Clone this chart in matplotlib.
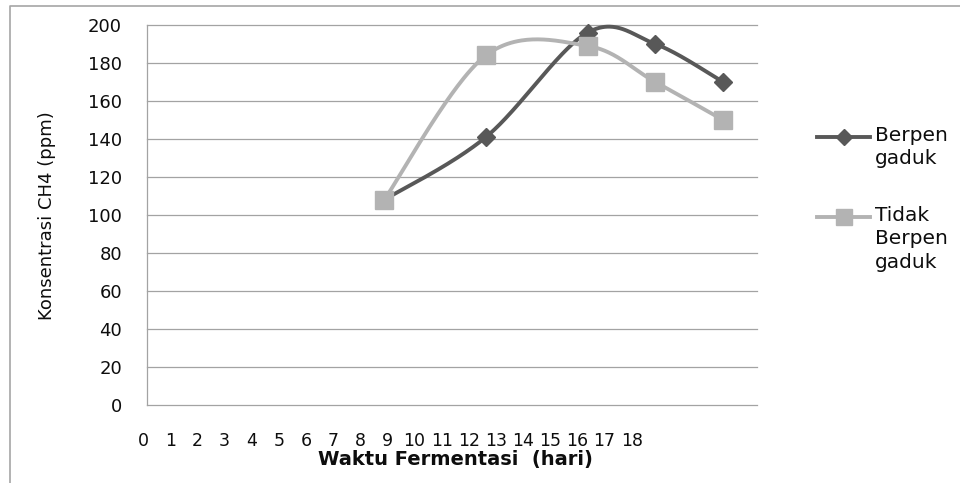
import numpy as np
import matplotlib
matplotlib.use("Agg")
import matplotlib.pyplot as plt
from matplotlib.lines import Line2D

# --- data -------------------------------------------------------------
days = [7, 10, 13, 15, 17]
berpengaduk = [108, 141, 196, 190, 170]
tidak_berpengaduk = [108, 184, 189, 170, 150]
series_labels = ["Berpen\ngaduk", "Tidak\nBerpen\ngaduk"]
x_tick_labels = [str(i) for i in range(19)]
y_ticks = list(range(0, 201, 20))

W, H = 960, 483
DARK = "#585858"
LIGHT = "#b3b3b3"
GRID = "#a3a3a3"
FONT = "DejaVu Sans"
TXT = "#0d0d0d"


def smooth(xs, ys, n=60):
    """Bezier smoothing with Catmull-Rom style control points (tension 1/6)."""
    p = np.column_stack([xs, ys]).astype(float)
    ext = np.vstack([p[0], p, p[-1]])
    out = []
    t = np.linspace(0, 1, n)[:, None]
    for i in range(len(p) - 1):
        p0, p1 = ext[i + 1], ext[i + 2]
        c1 = p0 + (ext[i + 2] - ext[i]) / 6.0
        c2 = p1 - (ext[i + 3] - ext[i + 1]) / 6.0
        seg = ((1 - t) ** 3) * p0 + 3 * ((1 - t) ** 2) * t * c1 \
            + 3 * (1 - t) * t ** 2 * c2 + t ** 3 * p1
        out.append(seg if i == 0 else seg[1:])
    pts = np.vstack(out)
    return pts[:, 0], pts[:, 1]


fig = plt.figure(figsize=(W / 100, H / 100), dpi=100)
fig.patch.set_facecolor("white")

def fx(px):
    return px / W

def fy(py):
    return 1 - py / H

ax = fig.add_axes([fx(147), fy(405), fx(757) - fx(147), fy(25) - fy(405)])
ax.set_xlim(0, 18)
ax.set_ylim(0, 200)

for s in ("top", "right", "bottom"):
    ax.spines[s].set_visible(False)
ax.spines["left"].set_color(GRID)
ax.spines["left"].set_linewidth(0.9)

ax.set_yticks(y_ticks)
ax.set_yticklabels([str(v) for v in y_ticks], fontsize=13, family=FONT, color=TXT)
ax.tick_params(axis="y", length=0, pad=18)
ax.set_xticks([])
ax.yaxis.grid(True, color=GRID, linewidth=0.9)
for gl in ax.get_ygridlines():
    gl.set_clip_on(False)
ax.set_axisbelow(True)

# series: smoothed lines with markers
for ys, color, marker, ms in ((berpengaduk, DARK, "D", 9), (tidak_berpengaduk, LIGHT, "s", 13)):
    sx, sy = smooth(days, ys)
    ax.plot(sx, sy, color=color, linewidth=2.8, solid_capstyle="round", clip_on=False, zorder=3)
    ax.plot(days, ys, linestyle="none", marker=marker, markersize=ms,
            markerfacecolor=color, markeredgecolor=color, clip_on=False, zorder=4)

# x tick labels row
for i, lab in enumerate(x_tick_labels):
    fig.text(fx(143 + 27.15 * i), fy(441.5), lab, ha="center", va="center",
             fontsize=12.5, family=FONT, color=TXT)

# axis titles
fig.text(fx(455), fy(459), "Waktu Fermentasi  (hari)", ha="center", va="center",
         fontsize=14, fontweight="bold", family=FONT, color=TXT)
fig.text(fx(47), fy(216), "Konsentrasi CH4 (ppm)", ha="center", va="center",
         rotation=90, fontsize=13, family=FONT, color=TXT)

# legend
legend_rows = [(137, DARK, "D", 8, series_labels[0]), (217, LIGHT, "s", 12, series_labels[1])]
for ypx, color, marker, ms, lab in legend_rows:
    fig.add_artist(Line2D([fx(817), fx(870)], [fy(ypx), fy(ypx)], transform=fig.transFigure,
                          color=color, linewidth=2.8))
    fig.add_artist(Line2D([fx(843.5)], [fy(ypx)], transform=fig.transFigure, linestyle="none",
                          marker=marker, markersize=ms, markerfacecolor=color,
                          markeredgecolor=color))
    fig.text(fx(875), fy(ypx - 11), lab, ha="left", va="top", fontsize=14.5,
             family=FONT, color=TXT, linespacing=1.3)

# outer chart border (top and left edges visible)
fig.add_artist(Line2D([fx(10), fx(10), fx(960)], [fy(483), fy(6), fy(6)],
                      transform=fig.transFigure, color="#a6a6a6", linewidth=1.2))

fig.savefig("out.png", dpi=100, facecolor="white")
